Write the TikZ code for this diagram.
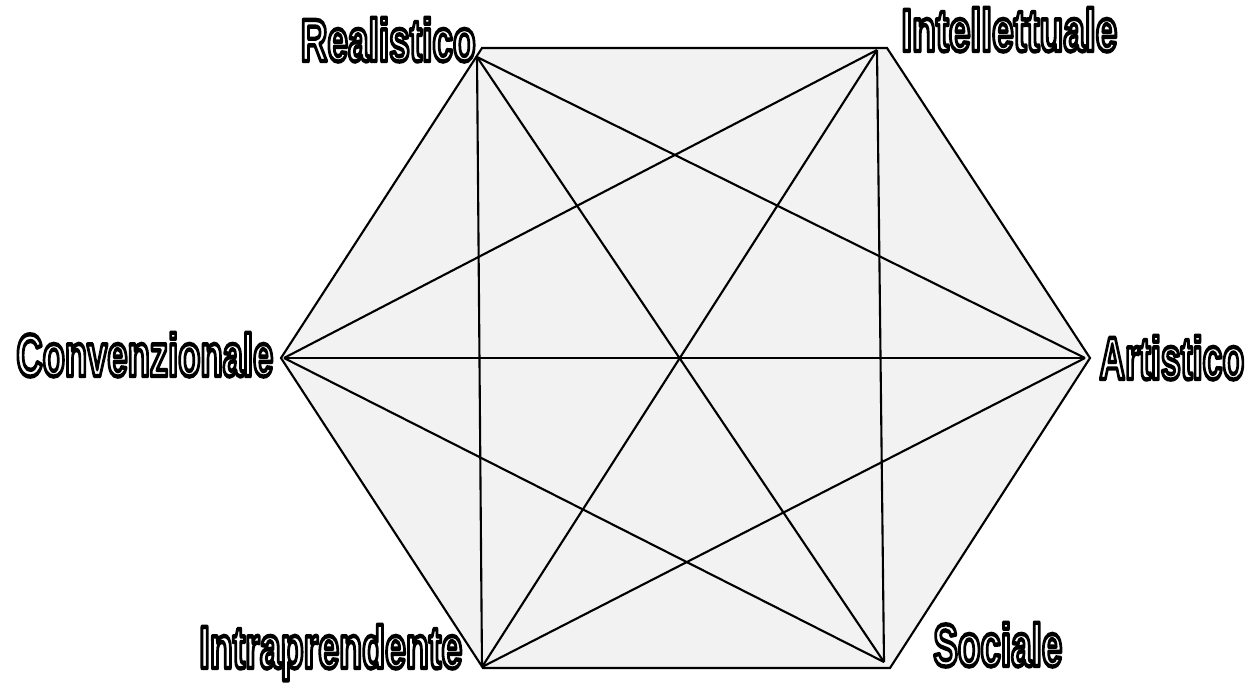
\documentclass[tikz,border=0pt]{standalone}
\usepackage{fontspec}
\usepackage{graphicx}
\newfontfamily\labfont{Liberation Sans}
\newcommand{\outltext}[2]{\resizebox{#1}{\height}{\special{pdf:literal direct q 2 Tr 2.5 w 0 G 1 g 1 j}\labfont\bfseries #2\special{pdf:literal direct Q}}}
\begin{document}
\begin{tikzpicture}[x=0.02cm,y=-0.02cm,
  edge/.style={line width=1.2pt,line join=miter},
  lab/.style={inner sep=0pt,font=\fontsize{34}{36}\selectfont}]
\useasboundingbox (0,0) rectangle (1247,684);
% outer hexagon
\coordinate (hR) at (482,48);
\coordinate (hI) at (887,48);
\coordinate (hA) at (1090,358);
\coordinate (hS) at (890,668);
\coordinate (hP) at (483,668);
\coordinate (hC) at (281,358);
\draw[edge,fill=black!5] (hR) -- (hI) -- (hA) -- (hS) -- (hP) -- (hC) -- cycle;
% inner end points of the diagonals
\coordinate (R) at (477,57);
\coordinate (I) at (877,50);
\coordinate (A) at (1085,358);
\coordinate (S) at (884,662);
\coordinate (P) at (482,667);
\coordinate (C) at (284,358);
\draw[edge] (R) -- (P);
\draw[edge] (R) -- (S);
\draw[edge] (R) -- (A);
\draw[edge] (I) -- (C);
\draw[edge] (I) -- (P);
\draw[edge] (I) -- (S);
\draw[edge] (C) -- (A);
\draw[edge] (C) -- (S);
\draw[edge] (P) -- (A);
% labels
\node[lab,anchor=base east] (lR) at (476,61) {\outltext{3.5cm}{Realistico}};
\node[lab,anchor=base west] (lI) at (901,51) {\outltext{4.32cm}{Intellettuale}};
\node[lab,anchor=base west] (lC) at (16,376) {\outltext{5.14cm}{Convenzionale}};
\node[lab,anchor=base west] (lA) at (1099,379) {\outltext{2.9cm}{Artistico}};
\node[lab,anchor=base west] (lP) at (199,668) {\outltext{5.26cm}{Intraprendente}};
\node[lab,anchor=base west] (lS) at (933,666) {\outltext{2.58cm}{Sociale}};
\end{tikzpicture}
\end{document}
